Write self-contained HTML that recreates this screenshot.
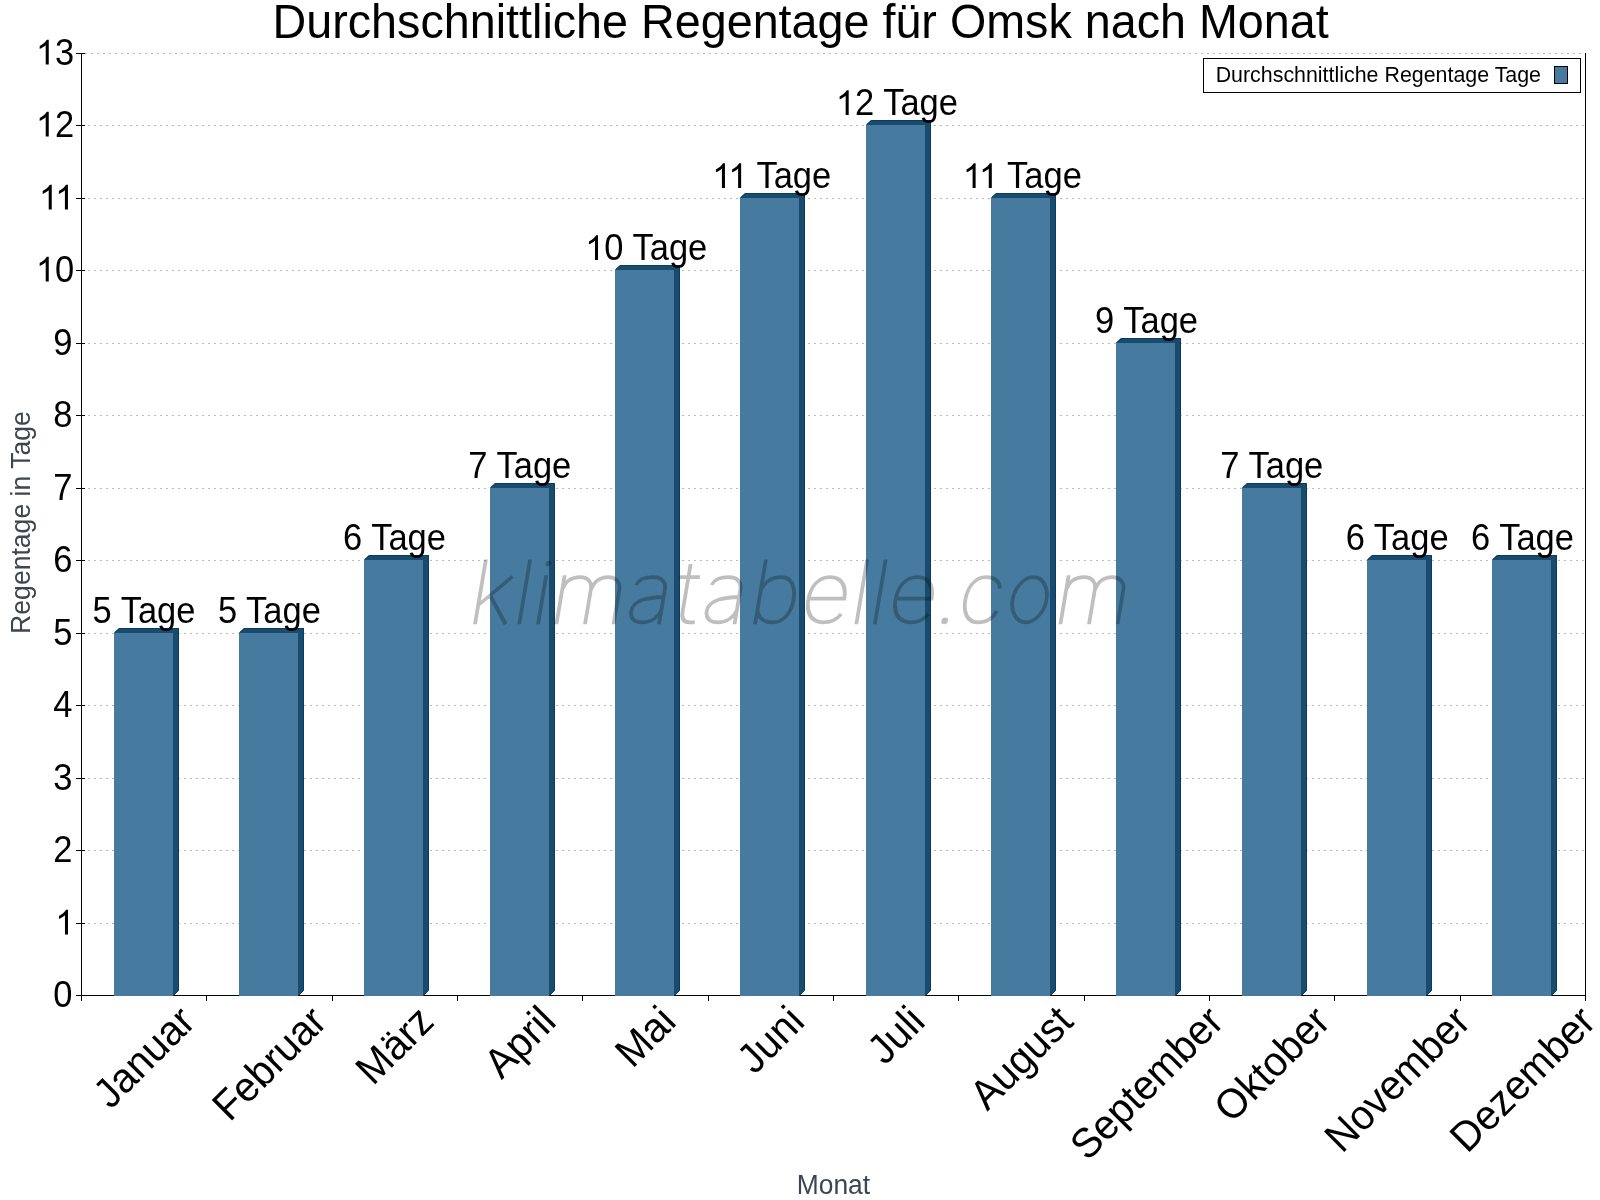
<!DOCTYPE html><html><head><meta charset="utf-8"><style>html,body{margin:0;padding:0;background:#fff;width:1600px;height:1200px;overflow:hidden}svg{display:block;font-family:"Liberation Sans",sans-serif;will-change:transform}</style></head><body>
<svg width="1600" height="1200" viewBox="0 0 1600 1200">
<line x1="88" y1="923.5" x2="1585" y2="923.5" stroke="#bababa" stroke-width="1" stroke-dasharray="2 4"/>
<line x1="88" y1="850.5" x2="1585" y2="850.5" stroke="#bababa" stroke-width="1" stroke-dasharray="2 4"/>
<line x1="88" y1="778.5" x2="1585" y2="778.5" stroke="#bababa" stroke-width="1" stroke-dasharray="2 4"/>
<line x1="88" y1="705.5" x2="1585" y2="705.5" stroke="#bababa" stroke-width="1" stroke-dasharray="2 4"/>
<line x1="88" y1="633.5" x2="1585" y2="633.5" stroke="#bababa" stroke-width="1" stroke-dasharray="2 4"/>
<line x1="88" y1="560.5" x2="1585" y2="560.5" stroke="#bababa" stroke-width="1" stroke-dasharray="2 4"/>
<line x1="88" y1="488.5" x2="1585" y2="488.5" stroke="#bababa" stroke-width="1" stroke-dasharray="2 4"/>
<line x1="88" y1="415.5" x2="1585" y2="415.5" stroke="#bababa" stroke-width="1" stroke-dasharray="2 4"/>
<line x1="88" y1="343.5" x2="1585" y2="343.5" stroke="#bababa" stroke-width="1" stroke-dasharray="2 4"/>
<line x1="88" y1="270.5" x2="1585" y2="270.5" stroke="#bababa" stroke-width="1" stroke-dasharray="2 4"/>
<line x1="88" y1="198.5" x2="1585" y2="198.5" stroke="#bababa" stroke-width="1" stroke-dasharray="2 4"/>
<line x1="88" y1="125.5" x2="1585" y2="125.5" stroke="#bababa" stroke-width="1" stroke-dasharray="2 4"/>
<line x1="85" y1="53.5" x2="1585" y2="53.5" stroke="#bababa" stroke-width="1" stroke-dasharray="2 4"/>
<line x1="81.5" y1="53" x2="81.5" y2="1001" stroke="#000" stroke-width="1"/>
<line x1="1585.5" y1="53" x2="1585.5" y2="1001" stroke="#000" stroke-width="1"/>
<line x1="76" y1="995.5" x2="1586" y2="995.5" stroke="#000" stroke-width="1"/>
<line x1="76" y1="995.5" x2="85" y2="995.5" stroke="#000" stroke-width="1"/>
<line x1="76" y1="923.5" x2="85" y2="923.5" stroke="#000" stroke-width="1"/>
<line x1="76" y1="850.5" x2="85" y2="850.5" stroke="#000" stroke-width="1"/>
<line x1="76" y1="778.5" x2="85" y2="778.5" stroke="#000" stroke-width="1"/>
<line x1="76" y1="705.5" x2="85" y2="705.5" stroke="#000" stroke-width="1"/>
<line x1="76" y1="633.5" x2="85" y2="633.5" stroke="#000" stroke-width="1"/>
<line x1="76" y1="560.5" x2="85" y2="560.5" stroke="#000" stroke-width="1"/>
<line x1="76" y1="488.5" x2="85" y2="488.5" stroke="#000" stroke-width="1"/>
<line x1="76" y1="415.5" x2="85" y2="415.5" stroke="#000" stroke-width="1"/>
<line x1="76" y1="343.5" x2="85" y2="343.5" stroke="#000" stroke-width="1"/>
<line x1="76" y1="270.5" x2="85" y2="270.5" stroke="#000" stroke-width="1"/>
<line x1="76" y1="198.5" x2="85" y2="198.5" stroke="#000" stroke-width="1"/>
<line x1="76" y1="125.5" x2="85" y2="125.5" stroke="#000" stroke-width="1"/>
<line x1="76" y1="53.5" x2="85" y2="53.5" stroke="#000" stroke-width="1"/>
<line x1="81.5" y1="995" x2="81.5" y2="1001" stroke="#000" stroke-width="1"/>
<line x1="206.5" y1="995" x2="206.5" y2="1001" stroke="#000" stroke-width="1"/>
<line x1="332.5" y1="995" x2="332.5" y2="1001" stroke="#000" stroke-width="1"/>
<line x1="457.5" y1="995" x2="457.5" y2="1001" stroke="#000" stroke-width="1"/>
<line x1="582.5" y1="995" x2="582.5" y2="1001" stroke="#000" stroke-width="1"/>
<line x1="708.5" y1="995" x2="708.5" y2="1001" stroke="#000" stroke-width="1"/>
<line x1="833.5" y1="995" x2="833.5" y2="1001" stroke="#000" stroke-width="1"/>
<line x1="958.5" y1="995" x2="958.5" y2="1001" stroke="#000" stroke-width="1"/>
<line x1="1084.5" y1="995" x2="1084.5" y2="1001" stroke="#000" stroke-width="1"/>
<line x1="1209.5" y1="995" x2="1209.5" y2="1001" stroke="#000" stroke-width="1"/>
<line x1="1334.5" y1="995" x2="1334.5" y2="1001" stroke="#000" stroke-width="1"/>
<line x1="1460.5" y1="995" x2="1460.5" y2="1001" stroke="#000" stroke-width="1"/>
<line x1="1585.5" y1="995" x2="1585.5" y2="1001" stroke="#000" stroke-width="1"/>
<rect x="114" y="633" width="59" height="363" fill="#467b9f"/>
<path d="M114,633 L119,628 L179,628 L179,990 L173,996 L173,633 Z" fill="#184b6e"/>
<path d="M114.5,632.5 L119.5,628.5 L178.5,628.5 L178.5,990.5 L173.5,995.5" fill="none" stroke="#0a3c60" stroke-width="1"/>
<rect x="239" y="633" width="59" height="363" fill="#467b9f"/>
<path d="M239,633 L244,628 L304,628 L304,990 L298,996 L298,633 Z" fill="#184b6e"/>
<path d="M239.5,632.5 L244.5,628.5 L303.5,628.5 L303.5,990.5 L298.5,995.5" fill="none" stroke="#0a3c60" stroke-width="1"/>
<rect x="364" y="560" width="59" height="436" fill="#467b9f"/>
<path d="M364,560 L369,555 L429,555 L429,990 L423,996 L423,560 Z" fill="#184b6e"/>
<path d="M364.5,559.5 L369.5,555.5 L428.5,555.5 L428.5,990.5 L423.5,995.5" fill="none" stroke="#0a3c60" stroke-width="1"/>
<rect x="490" y="488" width="59" height="508" fill="#467b9f"/>
<path d="M490,488 L495,483 L555,483 L555,990 L549,996 L549,488 Z" fill="#184b6e"/>
<path d="M490.5,487.5 L495.5,483.5 L554.5,483.5 L554.5,990.5 L549.5,995.5" fill="none" stroke="#0a3c60" stroke-width="1"/>
<rect x="615" y="270" width="59" height="726" fill="#467b9f"/>
<path d="M615,270 L620,265 L680,265 L680,990 L674,996 L674,270 Z" fill="#184b6e"/>
<path d="M615.5,269.5 L620.5,265.5 L679.5,265.5 L679.5,990.5 L674.5,995.5" fill="none" stroke="#0a3c60" stroke-width="1"/>
<rect x="740" y="198" width="59" height="798" fill="#467b9f"/>
<path d="M740,198 L745,193 L805,193 L805,990 L799,996 L799,198 Z" fill="#184b6e"/>
<path d="M740.5,197.5 L745.5,193.5 L804.5,193.5 L804.5,990.5 L799.5,995.5" fill="none" stroke="#0a3c60" stroke-width="1"/>
<rect x="866" y="125" width="59" height="871" fill="#467b9f"/>
<path d="M866,125 L871,120 L931,120 L931,990 L925,996 L925,125 Z" fill="#184b6e"/>
<path d="M866.5,124.5 L871.5,120.5 L930.5,120.5 L930.5,990.5 L925.5,995.5" fill="none" stroke="#0a3c60" stroke-width="1"/>
<rect x="991" y="198" width="59" height="798" fill="#467b9f"/>
<path d="M991,198 L996,193 L1056,193 L1056,990 L1050,996 L1050,198 Z" fill="#184b6e"/>
<path d="M991.5,197.5 L996.5,193.5 L1055.5,193.5 L1055.5,990.5 L1050.5,995.5" fill="none" stroke="#0a3c60" stroke-width="1"/>
<rect x="1116" y="343" width="59" height="653" fill="#467b9f"/>
<path d="M1116,343 L1121,338 L1181,338 L1181,990 L1175,996 L1175,343 Z" fill="#184b6e"/>
<path d="M1116.5,342.5 L1121.5,338.5 L1180.5,338.5 L1180.5,990.5 L1175.5,995.5" fill="none" stroke="#0a3c60" stroke-width="1"/>
<rect x="1242" y="488" width="59" height="508" fill="#467b9f"/>
<path d="M1242,488 L1247,483 L1307,483 L1307,990 L1301,996 L1301,488 Z" fill="#184b6e"/>
<path d="M1242.5,487.5 L1247.5,483.5 L1306.5,483.5 L1306.5,990.5 L1301.5,995.5" fill="none" stroke="#0a3c60" stroke-width="1"/>
<rect x="1367" y="560" width="59" height="436" fill="#467b9f"/>
<path d="M1367,560 L1372,555 L1432,555 L1432,990 L1426,996 L1426,560 Z" fill="#184b6e"/>
<path d="M1367.5,559.5 L1372.5,555.5 L1431.5,555.5 L1431.5,990.5 L1426.5,995.5" fill="none" stroke="#0a3c60" stroke-width="1"/>
<rect x="1492" y="560" width="59" height="436" fill="#467b9f"/>
<path d="M1492,560 L1497,555 L1557,555 L1557,990 L1551,996 L1551,560 Z" fill="#184b6e"/>
<path d="M1492.5,559.5 L1497.5,555.5 L1556.5,555.5 L1556.5,990.5 L1551.5,995.5" fill="none" stroke="#0a3c60" stroke-width="1"/>
<g id="yl0"><text transform="translate(53.30,1006.60) scale(1,1.045)" font-size="34.5" fill="#000" style="white-space:pre">0</text></g>
<g id="yl1"><path d="M763,0H583V1147C540,1106 483,1064 413,1023C343,982 280,951 225,931V1105C326,1152 414,1210 489,1277C564,1344 617,1409 648,1472H763Z" fill="#000" transform="translate(55.15,934.60) scale(0.016846,-0.016846)"/></g>
<g id="yl2"><text transform="translate(53.30,861.60) scale(1,1.045)" font-size="34.5" fill="#000" style="white-space:pre">2</text></g>
<g id="yl3"><text transform="translate(53.30,789.60) scale(1,1.045)" font-size="34.5" fill="#000" style="white-space:pre">3</text></g>
<g id="yl4"><text transform="translate(53.30,716.60) scale(1,1.045)" font-size="34.5" fill="#000" style="white-space:pre">4</text></g>
<g id="yl5"><text transform="translate(53.30,644.60) scale(1,1.045)" font-size="34.5" fill="#000" style="white-space:pre">5</text></g>
<g id="yl6"><text transform="translate(53.30,571.60) scale(1,1.045)" font-size="34.5" fill="#000" style="white-space:pre">6</text></g>
<g id="yl7"><text transform="translate(53.30,499.60) scale(1,1.045)" font-size="34.5" fill="#000" style="white-space:pre">7</text></g>
<g id="yl8"><text transform="translate(53.30,426.60) scale(1,1.045)" font-size="34.5" fill="#000" style="white-space:pre">8</text></g>
<g id="yl9"><text transform="translate(53.30,354.60) scale(1,1.045)" font-size="34.5" fill="#000" style="white-space:pre">9</text></g>
<g id="yl10"><path d="M763,0H583V1147C540,1106 483,1064 413,1023C343,982 280,951 225,931V1105C326,1152 414,1210 489,1277C564,1344 617,1409 648,1472H763Z" fill="#000" transform="translate(35.90,281.60) scale(0.016846,-0.016846)"/><text transform="translate(55.09,281.60) scale(1,1.045)" font-size="34.5" fill="#000" style="white-space:pre">0</text></g>
<g id="yl11"><path d="M763,0H583V1147C540,1106 483,1064 413,1023C343,982 280,951 225,931V1105C326,1152 414,1210 489,1277C564,1344 617,1409 648,1472H763Z" fill="#000" transform="translate(38.90,209.60) scale(0.016846,-0.016846)"/><path d="M763,0H583V1147C540,1106 483,1064 413,1023C343,982 280,951 225,931V1105C326,1152 414,1210 489,1277C564,1344 617,1409 648,1472H763Z" fill="#000" transform="translate(55.09,209.60) scale(0.016846,-0.016846)"/></g>
<g id="yl12"><path d="M763,0H583V1147C540,1106 483,1064 413,1023C343,982 280,951 225,931V1105C326,1152 414,1210 489,1277C564,1344 617,1409 648,1472H763Z" fill="#000" transform="translate(35.90,136.60) scale(0.016846,-0.016846)"/><text transform="translate(55.09,136.60) scale(1,1.045)" font-size="34.5" fill="#000" style="white-space:pre">2</text></g>
<g id="yl13"><path d="M763,0H583V1147C540,1106 483,1064 413,1023C343,982 280,951 225,931V1105C326,1152 414,1210 489,1277C564,1344 617,1409 648,1472H763Z" fill="#000" transform="translate(35.90,64.60) scale(0.016846,-0.016846)"/><text transform="translate(55.09,64.60) scale(1,1.045)" font-size="34.5" fill="#000" style="white-space:pre">3</text></g>
<g id="dl0"><text transform="translate(92.56,623.00) scale(1,1.045)" font-size="34.5" fill="#000" style="white-space:pre">5 Tage</text></g>
<g id="dl1"><text transform="translate(217.90,623.00) scale(1,1.045)" font-size="34.5" fill="#000" style="white-space:pre">5 Tage</text></g>
<g id="dl2"><text transform="translate(343.06,550.00) scale(1,1.045)" font-size="34.5" fill="#000" style="white-space:pre">6 Tage</text></g>
<g id="dl3"><text transform="translate(468.35,478.00) scale(1,1.045)" font-size="34.5" fill="#000" style="white-space:pre">7 Tage</text></g>
<g id="dl4"><path d="M763,0H583V1147C540,1106 483,1064 413,1023C343,982 280,951 225,931V1105C326,1152 414,1210 489,1277C564,1344 617,1409 648,1472H763Z" fill="#000" transform="translate(585.17,260.00) scale(0.016846,-0.016846)"/><text transform="translate(604.36,260.00) scale(1,1.045)" font-size="34.5" fill="#000" style="white-space:pre">0 Tage</text></g>
<g id="dl5"><path d="M763,0H583V1147C540,1106 483,1064 413,1023C343,982 280,951 225,931V1105C326,1152 414,1210 489,1277C564,1344 617,1409 648,1472H763Z" fill="#000" transform="translate(712.10,188.00) scale(0.016846,-0.016846)"/><path d="M763,0H583V1147C540,1106 483,1064 413,1023C343,982 280,951 225,931V1105C326,1152 414,1210 489,1277C564,1344 617,1409 648,1472H763Z" fill="#000" transform="translate(728.29,188.00) scale(0.016846,-0.016846)"/><text transform="translate(747.47,188.00) scale(1,1.045)" font-size="34.5" fill="#000" style="white-space:pre"> Tage</text></g>
<g id="dl6"><path d="M763,0H583V1147C540,1106 483,1064 413,1023C343,982 280,951 225,931V1105C326,1152 414,1210 489,1277C564,1344 617,1409 648,1472H763Z" fill="#000" transform="translate(835.84,115.00) scale(0.016846,-0.016846)"/><text transform="translate(855.03,115.00) scale(1,1.045)" font-size="34.5" fill="#000" style="white-space:pre">2 Tage</text></g>
<g id="dl7"><path d="M763,0H583V1147C540,1106 483,1064 413,1023C343,982 280,951 225,931V1105C326,1152 414,1210 489,1277C564,1344 617,1409 648,1472H763Z" fill="#000" transform="translate(962.77,188.00) scale(0.016846,-0.016846)"/><path d="M763,0H583V1147C540,1106 483,1064 413,1023C343,982 280,951 225,931V1105C326,1152 414,1210 489,1277C564,1344 617,1409 648,1472H763Z" fill="#000" transform="translate(978.95,188.00) scale(0.016846,-0.016846)"/><text transform="translate(998.14,188.00) scale(1,1.045)" font-size="34.5" fill="#000" style="white-space:pre"> Tage</text></g>
<g id="dl8"><text transform="translate(1095.10,333.00) scale(1,1.045)" font-size="34.5" fill="#000" style="white-space:pre">9 Tage</text></g>
<g id="dl9"><text transform="translate(1220.35,478.00) scale(1,1.045)" font-size="34.5" fill="#000" style="white-space:pre">7 Tage</text></g>
<g id="dl10"><text transform="translate(1345.72,550.00) scale(1,1.045)" font-size="34.5" fill="#000" style="white-space:pre">6 Tage</text></g>
<g id="dl11"><text transform="translate(1471.06,550.00) scale(1,1.045)" font-size="34.5" fill="#000" style="white-space:pre">6 Tage</text></g>
<text id="xl0" transform="translate(143.67,1056.74) rotate(-45) scale(1,1.045)" font-size="40" text-anchor="middle" y="13.8">Januar</text>
<text id="xl1" transform="translate(269.00,1063.01) rotate(-45) scale(1,1.045)" font-size="40" text-anchor="middle" y="13.8">Februar</text>
<text id="xl2" transform="translate(394.33,1044.92) rotate(-45) scale(1,1.045)" font-size="40" text-anchor="middle" y="13.8">März</text>
<text id="xl3" transform="translate(519.67,1041.79) rotate(-45) scale(1,1.045)" font-size="40" text-anchor="middle" y="13.8">April</text>
<text id="xl4" transform="translate(645.00,1036.28) rotate(-45) scale(1,1.045)" font-size="40" text-anchor="middle" y="13.8">Mai</text>
<text id="xl5" transform="translate(770.33,1039.44) rotate(-45) scale(1,1.045)" font-size="40" text-anchor="middle" y="13.8">Juni</text>
<text id="xl6" transform="translate(895.67,1034.72) rotate(-45) scale(1,1.045)" font-size="40" text-anchor="middle" y="13.8">Juli</text>
<text id="xl7" transform="translate(1021.00,1057.52) rotate(-45) scale(1,1.045)" font-size="40" text-anchor="middle" y="13.8">August</text>
<text id="xl8" transform="translate(1146.33,1082.67) rotate(-45) scale(1,1.045)" font-size="40" text-anchor="middle" y="13.8">September</text>
<text id="xl9" transform="translate(1271.67,1063.80) rotate(-45) scale(1,1.045)" font-size="40" text-anchor="middle" y="13.8">Oktober</text>
<text id="xl10" transform="translate(1397.00,1078.73) rotate(-45) scale(1,1.045)" font-size="40" text-anchor="middle" y="13.8">November</text>
<text id="xl11" transform="translate(1522.33,1078.73) rotate(-45) scale(1,1.045)" font-size="40" text-anchor="middle" y="13.8">Dezember</text>
<text id="title" transform="translate(272.55,37.70) scale(1,1.045)" font-size="46.7" text-anchor="start" fill="#000">Durchschnittliche Regentage für Omsk nach Monat</text>
<text id="ytitle" transform="translate(29.8,633.89) rotate(-90) scale(1,1.045)" font-size="26.6" fill="#3d4650">Regentage in Tage</text>
<text id="xtitle" transform="translate(796.72,1193.80) scale(1,1.045)" font-size="26.4" text-anchor="start" fill="#3d4650">Monat</text>
<rect x="1203.5" y="58.5" width="377" height="34" fill="#fff" stroke="#000" stroke-width="1"/>
<text id="legtext" transform="translate(1215.63,81.90) scale(1,1.045)" font-size="21.4" text-anchor="start" fill="#000">Durchschnittliche Regentage Tage</text>
<rect x="1554.5" y="66.5" width="13" height="17" fill="#467b9f" stroke="#000" stroke-width="1"/>
<g transform="matrix(1,0,-0.169,1,105.49,0)" fill="none" stroke="#000" stroke-opacity="0.25" stroke-width="3.8">
<path d="M475,559.6 V624.2 M476.3,604 L504.5,576.5 M484.9,595 L505.5,624.2 M519.2,559.6 V624.2 M538,575.3 V624.2 M556.4,624.2 V575.3 M556.4,590 C558,581 564,577.2 572,577.2 C580,577.2 585,582 585,590 V624.2 M585,590 C587,581 592,577.2 600,577.2 C608,577.2 613.5,582 613.5,590 V624.2 M629.5,585 C631,580 637,577.2 645,577.2 C654,577.2 659,582 659,590 V624.2 M659,597 C645,597.5 629,599 629,611 C629,618 634,622.3 642,622.3 C651,622.3 657,617 659,610 M680.5,564.1 V612 C680.5,619 683,622.3 689,622.3 L694.5,622.3 M671.6,577.2 H692 M 705.0 585.0 C 706.5 580.0 712.5 577.2 720.5 577.2 C 729.5 577.2 734.5 582.0 734.5 590.0 V 624.2 M 734.5 597.0 C 720.5 597.5 704.5 599.0 704.5 611.0 C 704.5 618.0 709.5 622.3 717.5 622.3 C 726.5 622.3 732.5 617.0 734.5 610.0 M755,559.6 V624.2 M755,590 C758,581 765,577.2 773,577.2 C784,577.2 789.4,587 789.4,600 C789.4,613 783,622.3 772,622.3 C763,622.3 757,617 755,610 M804.2,598.6 H840 C840,585 833,577.2 822,577.2 C810,577.2 804.2,587 804.2,600 C804.2,613 811,622.3 823,622.3 C831,622.3 836.5,619 839.5,614 M856.3,559.6 V624.2 M874.8,559.6 V624.2 M 891.4 598.6 H 927.2 C 927.2 585.0 920.2 577.2 909.2 577.2 C 897.2 577.2 891.4 587.0 891.4 600.0 C 891.4 613.0 898.2 622.3 910.2 622.3 C 918.2 622.3 923.7 619.0 926.7 614.0 M994,588.5 C992,581 986,577.2 978,577.2 C967,577.2 961.2,587 961.2,600 C961.2,613 967,622.3 978,622.3 C986,622.3 992,618 994.5,611 M 1060.4 624.2 V 575.3 M 1060.4 590.0 C 1062.0 581.0 1068.0 577.2 1076.0 577.2 C 1084.0 577.2 1089.0 582.0 1089.0 590.0 V 624.2 M 1089.0 590.0 C 1091.0 581.0 1096.0 577.2 1104.0 577.2 C 1112.0 577.2 1117.5 582.0 1117.5 590.0 V 624.2"/>
<ellipse cx="1025.4" cy="599.75" rx="17" ry="22.55"/>
</g>
<g transform="matrix(1,0,-0.169,1,105.49,0)" fill="#000" fill-opacity="0.25">
<circle cx="538" cy="563.5" r="2.7"/><circle cx="944.1" cy="620.9" r="3.3"/>
</g>
</svg>
</body></html>
